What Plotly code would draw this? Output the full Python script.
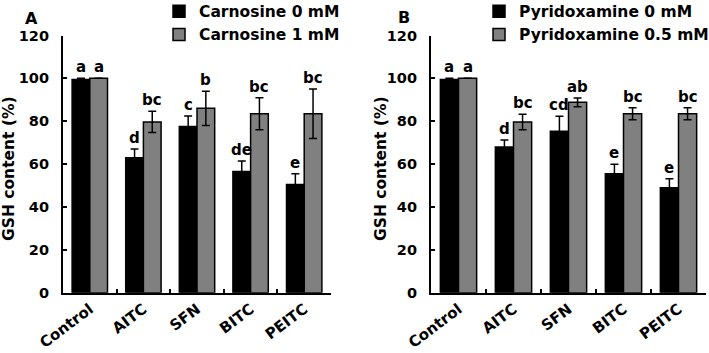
import plotly.graph_objects as go

categories = ["Control", "AITC", "SFN", "BITC", "PEITC"]

# Panel A
a_carn0 = [99.5, 63, 77.5, 56.5, 50.5]
a_carn0_err = [0.5, 4, 5, 5, 5]
a_carn1 = [100, 79.7, 86, 83.5, 83.5]
a_carn1_err = [0, 5, 8, 7.5, 11.5]
a_letters0 = ["a", "d", "c", "de", "e"]
a_letters1 = ["a", "bc", "b", "bc", "bc"]

# Panel B
b_pyr0 = [99.5, 68, 75.3, 55.5, 49]
b_pyr0_err = [0.5, 3.2, 7, 4.4, 4.2]
b_pyr1 = [100, 79.6, 88.8, 83.5, 83.5]
b_pyr1_err = [0, 3.6, 2, 2.8, 2.8]
b_letters0 = ["a", "d", "cd", "e", "e"]
b_letters1 = ["a", "bc", "ab", "bc", "bc"]

y_ticks = [0, 20, 40, 60, 80, 100, 120]

FONT = "DejaVu Sans"
W, H = 709, 353
BARGAP = 0.34

def px(x):
    return x / W

def py(y):
    return 1 - y / H

fig = go.Figure()

def add_pair(xa, ya, ylab, vals0, err0, vals1, err1, name0, name1, legend):
    fig.add_trace(go.Bar(
        x=categories, y=vals0, name=name0, xaxis=xa, yaxis=ya, legend=legend,
        marker=dict(color="#000000", line=dict(color="#000000", width=1.5)),
        error_y=dict(type="data", array=err0, color="#000000", thickness=1.5, width=4),
    ))
    fig.add_trace(go.Bar(
        x=categories, y=vals1, name=name1, xaxis=xa, yaxis=ya, legend=legend,
        marker=dict(color="#808080", line=dict(color="#000000", width=1.5)),
        error_y=dict(type="data", array=err1, color="#000000", thickness=1.5, width=4),
    ))
    # invisible helper so the label-only y axis gets drawn
    fig.add_trace(go.Scatter(
        x=categories, y=vals1, xaxis=xa, yaxis=ylab, mode="markers",
        marker=dict(opacity=0), showlegend=False, hoverinfo="skip",
    ))

add_pair("x", "y", "y3", a_carn0, a_carn0_err, a_carn1, a_carn1_err,
         "Carnosine 0 mM", "Carnosine 1 mM", "legend")
add_pair("x2", "y2", "y4", b_pyr0, b_pyr0_err, b_pyr1, b_pyr1_err,
         "Pyridoxamine 0 mM", "Pyridoxamine 0.5 mM", "legend2")

annotations = []
off = (1 - BARGAP) / 4

def add_letters(xref, yref, vals, errs, letters, sign):
    for i, (v, e, t) in enumerate(zip(vals, errs, letters)):
        annotations.append(dict(
            x=i + sign * off, y=v + e, xref=xref, yref=yref, text=t,
            showarrow=False, yanchor="bottom", xanchor="center",
            font=dict(family=FONT, size=15, color="black", weight="bold"),
        ))

add_letters("x", "y", a_carn0, a_carn0_err, a_letters0, -1)
add_letters("x", "y", a_carn1, a_carn1_err, a_letters1, 1)
add_letters("x2", "y2", b_pyr0, b_pyr0_err, b_letters0, -1)
add_letters("x2", "y2", b_pyr1, b_pyr1_err, b_letters1, 1)

for xpix, txt in [(9, "GSH content (%)"), (381, "GSH content (%)")]:
    annotations.append(dict(
        x=px(xpix), y=py(169), xref="paper", yref="paper", text=txt,
        showarrow=False, textangle=-90, xanchor="center", yanchor="middle",
        font=dict(family=FONT, size=15.5, color="black", weight="bold"),
    ))

for xpix, ypix, txt in [(31.7, 18.3, "A"), (404, 17.5, "B")]:
    annotations.append(dict(
        x=px(xpix), y=py(ypix), xref="paper", yref="paper", text=txt,
        showarrow=False, xanchor="center", yanchor="middle",
        font=dict(family=FONT, size=16, color="black", weight="bold"),
    ))

xaxis_common = dict(
    type="category", showline=True, linecolor="black", linewidth=2,
    ticks="inside", tickson="boundaries", ticklen=4, tickwidth=2, tickcolor="black",
    tickangle=-37, showgrid=False, zeroline=False, automargin=False,
    tickfont=dict(family=FONT, size=15, color="black", weight="bold"),
    fixedrange=True,
)
yaxis_common = dict(
    range=[0, 120], tickvals=y_ticks, showline=True, linecolor="black", linewidth=2,
    ticks="inside", ticklen=4, tickwidth=2, tickcolor="black",
    showgrid=False, zeroline=False, automargin=False, showticklabels=False,
)
ylabel_common = dict(
    range=[0, 120], tickvals=y_ticks, showline=False, ticks="",
    showgrid=False, zeroline=False, automargin=False, showticklabels=True,
    anchor="free", side="left",
    tickfont=dict(family=FONT, size=14.5, color="black", weight="bold"),
)

y_dom = [py(292.7), py(35.5)]

legend_common = dict(
    y=1.015, xanchor="left", yanchor="top",
    bgcolor="rgba(0,0,0,0)", itemwidth=30, tracegroupgap=0,
    font=dict(family=FONT, size=15.5, color="black", weight="bold"),
)

fig.update_layout(
    width=W, height=H,
    margin=dict(l=0, r=0, t=0, b=0, autoexpand=False),
    paper_bgcolor="white", plot_bgcolor="white",
    barmode="group", bargap=BARGAP, bargroupgap=0,
    xaxis=dict(xaxis_common, domain=[px(63), px(331)], anchor="y"),
    yaxis=dict(yaxis_common, domain=y_dom, anchor="x"),
    xaxis2=dict(xaxis_common, domain=[px(431), px(706)], anchor="y2"),
    yaxis2=dict(yaxis_common, domain=y_dom, anchor="x2"),
    yaxis3=dict(ylabel_common, domain=y_dom, overlaying="y", position=px(49)),
    yaxis4=dict(ylabel_common, domain=y_dom, overlaying="y2", position=px(417)),
    legend=dict(legend_common, x=px(159)),
    legend2=dict(legend_common, x=px(479)),
    annotations=annotations,
    showlegend=True,
    hovermode=False,
)

fig.write_html("out.html")
